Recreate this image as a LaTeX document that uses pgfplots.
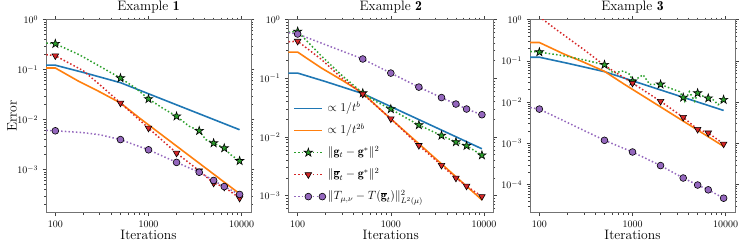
\documentclass[border=0pt]{standalone}
\usepackage{fix-cm}
\usepackage{fontspec}
\usepackage{amsmath}
\usepackage{pgfplots}
\pgfplotsset{compat=1.18}
\usetikzlibrary{plotmarks}
\definecolor{tabblue}{HTML}{1F77B4}
\definecolor{taborange}{HTML}{FF7F0E}
\definecolor{tabgreen}{HTML}{2CA02C}
\definecolor{tabred}{HTML}{D62728}
\definecolor{tabpurple}{HTML}{9467BD}
\pgfdeclareplotmark{fstar}{%
  \pgfpathmoveto{\pgfpointpolar{90}{\pgfplotmarksize}}%
  \pgfpathlineto{\pgfpointpolar{126}{0.382\pgfplotmarksize}}%
  \pgfpathlineto{\pgfpointpolar{162}{\pgfplotmarksize}}%
  \pgfpathlineto{\pgfpointpolar{198}{0.382\pgfplotmarksize}}%
  \pgfpathlineto{\pgfpointpolar{234}{\pgfplotmarksize}}%
  \pgfpathlineto{\pgfpointpolar{270}{0.382\pgfplotmarksize}}%
  \pgfpathlineto{\pgfpointpolar{306}{\pgfplotmarksize}}%
  \pgfpathlineto{\pgfpointpolar{342}{0.382\pgfplotmarksize}}%
  \pgfpathlineto{\pgfpointpolar{18}{\pgfplotmarksize}}%
  \pgfpathlineto{\pgfpointpolar{54}{0.382\pgfplotmarksize}}%
  \pgfpathclose
  \pgfusepathqfillstroke}
\tikzset{
  sblu/.style={color=tabblue, line width=1.6bp, solid},
  sora/.style={color=taborange, line width=1.6bp, solid},
  sdot/.style={line width=1.5bp, dash pattern=on 1.5bp off 2.2bp},
  sgrn/.style={sdot, color=tabgreen, mark=fstar, mark size=4.4bp,
     mark options={solid, fill=tabgreen, draw=black, line width=0.6bp}},
  sred/.style={sdot, color=tabred, mark=triangle*, mark size=3.8bp,
     mark options={solid, fill=tabred, draw=black, line width=0.6bp, rotate=180}},
  spur/.style={sdot, color=tabpurple, mark=*, mark size=3.4bp,
     mark options={solid, fill=tabpurple, draw=black, line width=0.6bp}},
}
\pgfplotsset{
  every axis/.append style={
    scale only axis, width=205bp, height=193bp,
    xmin=79.4, xmax=12590, ymax=1,
    xtick={100,1000,10000}, xticklabels={100,1000,10000},
    tick align=outside, major tick length=3.5bp, minor tick length=2bp,
    axis line style={black!55, line width=0.6bp},
    tick style={black!75, line width=0.6bp},
    tick label style={font=\fontsize{10}{12}\selectfont},
    xticklabel style={anchor=base, yshift=-11.5bp, inner sep=0.5bp},
    yticklabel style={anchor=east, inner xsep=0pt, xshift=-4.3bp},
    title style={at={(axis description cs:0.5,1)}, anchor=base, yshift=3.3bp, font=\fontsize{13.7}{16}\selectfont},
    xlabel style={at={(axis description cs:0.5,0)}, anchor=base, yshift=-27bp, inner sep=0.5bp, font=\fontsize{13.7}{16}\selectfont},
  },
}
\begin{document}
\begin{tikzpicture}
\useasboundingbox (0,0) rectangle (747bp,249bp);
% ---------------- Example 1
\begin{loglogaxis}[anchor=south west, at={(46bp,36.3bp)}, ymin=1.38e-4,
  title={Example $\mathbf{1}$}, xlabel={Iterations},
  ylabel={Error},
  ylabel style={at={(axis description cs:-0.166,0.5)}, anchor=center, font=\fontsize{13.7}{16}\selectfont}]
\addplot[sblu] coordinates {(70,0.123)(100,0.123)(200,0.088)(500,0.055)(1000,0.033)(9500,0.0063)};
\addplot[sora] coordinates {(70,0.108)(100,0.108)(180,0.058)(300,0.036)(500,0.0216)(800,0.0108)(9500,3.3e-4)};
\addplot[sgrn, mark indices={2,5,7,9,11,13,14,16}] coordinates {(80,0.34)(100,0.33)(180,0.2)(300,0.117)(500,0.068)(725,0.043)(1000,0.026)(1415,0.0171)(2000,0.0117)(2730,0.0074)(3500,0.006)(4120,0.004)(5000,0.0034)(6500,0.0027)(7600,0.002)(9500,0.0015)};
\addplot[sred, mark indices={2,5,6,7,8,9,10,11}] coordinates {(80,0.2)(100,0.19)(200,0.095)(300,0.05)(500,0.0216)(1000,0.0068)(2000,0.00215)(3500,9.5e-4)(5000,5.4e-4)(6500,4.5e-4)(9500,2.7e-4)};
\addplot[spur, mark indices={2,5,7,8,9,10,11,12}] coordinates {(80,0.0061)(100,0.006)(200,0.0055)(300,0.005)(500,0.004)(800,0.0029)(1000,0.0025)(2000,0.0014)(3500,8.9e-4)(5000,6.1e-4)(6500,4.6e-4)(9500,3.2e-4)};
\end{loglogaxis}
% ---------------- Example 2
\begin{loglogaxis}[anchor=south west, at={(288.3bp,36.3bp)}, ymin=5.13e-4,
  title={Example $\mathbf{2}$}, xlabel={Iterations},
  legend cell align=left,
  legend image code/.code={\draw[mark repeat=2,mark phase=2,#1] plot coordinates {(0bp,0bp)(14bp,0bp)(28bp,0bp)};},
  legend style={at={(axis description cs:0.01,0.015)}, anchor=south west, draw=none, fill=none,
    font=\fontsize{12}{14}\selectfont, row sep=0pt,
    nodes={text height=11.8bp, text depth=5.2bp, inner ysep=2.5bp}}]
\addplot[sblu] coordinates {(70,0.123)(100,0.123)(200,0.088)(500,0.055)(1000,0.033)(9500,0.0063)};
\addlegendentry{$\propto 1/t^{b}$}
\addplot[sora] coordinates {(70,0.28)(100,0.28)(180,0.15)(300,0.093)(500,0.056)(800,0.028)(9500,8.5e-4)};
\addlegendentry{$\propto 1/t^{2b}$}
\addplot[sgrn, mark indices={2,5,7,9,10,11,12,13}] coordinates {(80,0.61)(100,0.63)(180,0.24)(290,0.117)(500,0.056)(700,0.04)(1000,0.030)(1400,0.022)(2000,0.016)(3500,0.0106)(5000,0.0082)(6500,0.0071)(9500,0.0049)};
\addlegendentry{$\|\mathbf{g}_t-\mathbf{g}^*\|^2$}
\addplot[sred, mark indices={2,5,6,7,8,9,10,11}] coordinates {(80,0.42)(100,0.43)(180,0.21)(290,0.105)(500,0.054)(1000,0.0205)(2000,0.0072)(3500,0.0033)(5000,0.002)(6500,0.00146)(9500,9.7e-4)};
\addlegendentry{$\|\overline{\mathbf{g}}_t-\mathbf{g}^*\|^2$}
\addplot[spur, mark indices={2,3,4,5,6,7,8,9}] coordinates {(80,0.6)(100,0.57)(500,0.214)(1000,0.123)(2000,0.071)(3500,0.047)(5000,0.0365)(6500,0.030)(9500,0.024)};
\addlegendentry{$\|T_{\mu,\nu}-T(\overline{\mathbf{g}}_t)\|^2_{L^2(\mu)}$}
\end{loglogaxis}
% ---------------- Example 3
\begin{loglogaxis}[anchor=south west, at={(530bp,36.3bp)}, ymin=2.09e-5,
  title={Example $\mathbf{3}$}, xlabel={Iterations}]
\addplot[sblu] coordinates {(70,0.123)(100,0.123)(200,0.088)(500,0.055)(1000,0.033)(9500,0.0063)};
\addplot[sora] coordinates {(70,0.28)(100,0.28)(180,0.15)(300,0.093)(500,0.056)(800,0.028)(9500,8.5e-4)};
\addplot[sgrn, mark indices={2,5,9,12,15,19,21,24}] coordinates {(80,0.17)(100,0.164)(180,0.134)(296,0.107)(500,0.081)(620,0.051)(800,0.057)(940,0.047)(1000,0.032)(1300,0.046)(1530,0.027)(2000,0.027)(2510,0.022)(3200,0.018)(3500,0.013)(3640,0.0105)(4070,0.018)(4650,0.0105)(5000,0.0166)(5760,0.0138)(6500,0.0125)(7330,0.0115)(8300,0.0087)(9500,0.0115)};
\addplot[sred, mark indices={4,5,6,7,8,9,10}] coordinates {(100,1.18)(153,0.57)(300,0.189)(500,0.078)(1000,0.029)(2000,0.0105)(3500,0.0043)(5000,0.0022)(6500,0.0018)(9500,9.7e-4)};
\addplot[spur, mark indices={2,3,4,5,6,7,8,9}] coordinates {(80,0.0074)(100,0.0068)(500,0.00119)(1000,6.2e-4)(2000,2.9e-4)(3500,1.45e-4)(5000,9.8e-5)(6500,7.5e-5)(9500,4.7e-5)};
\end{loglogaxis}
\end{tikzpicture}
\end{document}
